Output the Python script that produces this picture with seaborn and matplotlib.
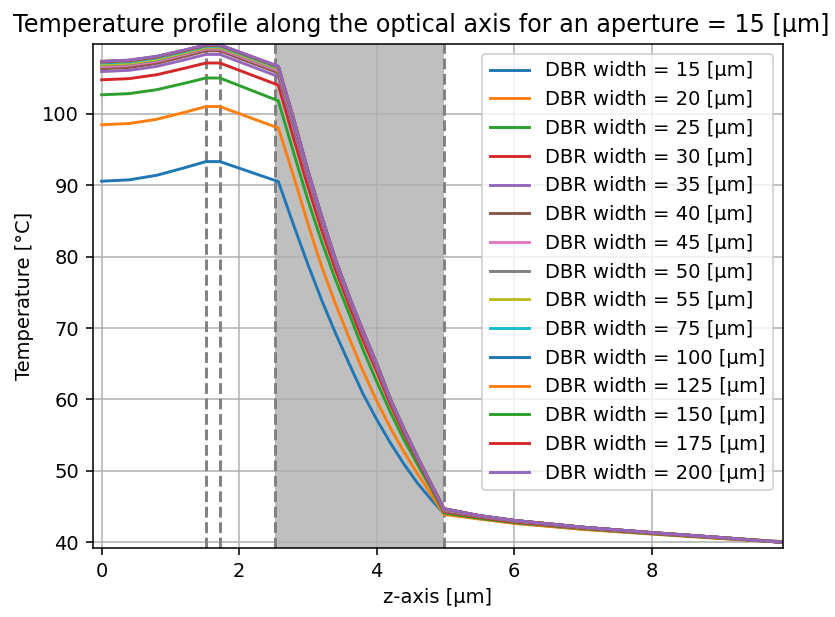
"""Temperature profile along the optical axis for several DBR widths."""

import numpy as np
import pandas as pd

import seaborn as sns
import matplotlib
matplotlib.use('Agg')
import matplotlib.pyplot as plt

###################################################################################################
###################################################################################################

# Positions along the optical axis [um]
z_axis = [0, 0.4, 0.8, 1.2, 1.517, 1.72, 2.57, 2.8, 3.0, 3.2, 3.4, 3.6, 3.8, 4.0,
          4.2, 4.4, 4.6, 4.8, 4.98, 5.5, 6.0, 7.0, 8.0, 9.0, 9.9]

# DBR widths [um]
dbr_widths = [15, 20, 25, 30, 35, 40, 45, 50, 55, 75, 100, 125, 150, 175, 200]

# Temperatures [degC], one list per DBR width
temp_15 = [90.55, 90.74, 91.38, 92.42, 93.3, 93.3, 90.5, 84.2, 78.9, 73.9, 69.3, 65.0, 60.8,
           57.2, 53.9, 50.9, 48.2, 45.9, 44.0, 43.3, 42.7, 41.85, 41.2, 40.6, 40.1]
temp_20 = [98.45, 98.63, 99.22, 100.18, 101.0, 101.0, 98.0, 91.0, 84.6, 78.6, 73.4, 68.6, 64.0,
           59.8, 56.0, 52.6, 49.5, 46.6, 43.9, 43.25, 42.65, 41.8, 41.15, 40.52, 40.0]
temp_25 = [102.65, 102.81, 103.36, 104.25, 105.0, 105.0, 101.8, 94.3, 87.9, 82.1, 76.8, 72.0, 67.0,
           62.5, 58.2, 54.3, 50.8, 47.4, 44.1, 43.35, 42.75, 41.9, 41.2, 40.56, 40.0]
temp_30 = [104.75, 104.91, 105.46, 106.35, 107.1, 107.1, 104.0, 96.3, 89.8, 83.7, 78.2, 73.2, 68.3,
           63.9, 59.3, 55.2, 51.4, 47.7, 44.3, 43.5, 42.85, 41.97, 41.26, 40.6, 40.02]
temp_35 = [105.9, 106.07, 106.62, 107.53, 108.3, 108.3, 105.2, 97.7, 91.0, 84.8, 79.0, 73.9, 69.1,
           64.5, 59.8, 55.6, 51.6, 47.9, 44.4, 43.6, 42.95, 42.03, 41.3, 40.63, 40.03]
temp_40 = [106.3, 106.48, 107.05, 108.0, 108.8, 108.8, 105.7, 98.2, 91.4, 85.1, 79.3, 74.1, 69.3,
           64.7, 59.9, 55.7, 51.7, 47.95, 44.5, 43.65, 43.0, 42.07, 41.33, 40.65, 40.04]
temp_45 = [106.6, 106.77, 107.34, 108.27, 109.05, 109.05, 106.0, 98.5, 91.6, 85.3, 79.4, 74.2, 69.4,
           64.8, 59.95, 55.75, 51.75, 47.97, 44.55, 43.68, 43.02, 42.08, 41.34, 40.66, 40.05]
temp_50 = [106.8, 106.97, 107.52, 108.43, 109.2, 109.2, 106.2, 98.7, 91.75, 85.4, 79.5, 74.3, 69.5,
           64.9, 60.0, 55.8, 51.8, 48.0, 44.6, 43.7, 43.05, 42.1, 41.35, 40.67, 40.05]
temp_55 = [106.9, 107.07, 107.62, 108.53, 109.3, 109.3, 106.3, 98.8, 91.85, 85.5, 79.55, 74.35, 69.55,
           64.95, 60.0, 55.8, 51.8, 48.0, 44.62, 43.7, 43.05, 42.1, 41.35, 40.67, 40.05]
temp_75 = [107.1, 107.26, 107.81, 108.7, 109.45, 109.45, 106.45, 98.9, 91.95, 85.55, 79.6, 74.4, 69.6,
           65.0, 60.0, 55.8, 51.8, 48.0, 44.65, 43.72, 43.06, 42.11, 41.36, 40.67, 40.0]
temp_100 = [107.2, 107.36, 107.9, 108.78, 109.52, 109.52, 106.52, 98.95, 92.0, 85.6, 79.6, 74.4, 69.6,
            65.0, 60.0, 55.8, 51.8, 48.0, 44.67, 43.72, 43.06, 42.11, 41.36, 40.67, 40.0]
temp_125 = [107.25, 107.41, 107.95, 108.83, 109.57, 109.57, 106.57, 99.0, 92.0, 85.6, 79.6, 74.4, 69.6,
            65.0, 60.0, 55.8, 51.8, 48.0, 44.68, 43.72, 43.06, 42.11, 41.36, 40.67, 40.0]
temp_150 = [107.3, 107.46, 107.99, 108.86, 109.6, 109.6, 106.6, 99.0, 92.0, 85.6, 79.6, 74.4, 69.6,
            65.0, 60.0, 55.8, 51.8, 48.0, 44.7, 43.72, 43.06, 42.11, 41.36, 40.67, 40.0]
temp_175 = [107.32, 107.48, 108.01, 108.88, 109.62, 109.62, 106.62, 99.0, 92.0, 85.6, 79.6, 74.4, 69.6,
            65.0, 60.0, 55.8, 51.8, 48.0, 44.7, 43.72, 43.06, 42.11, 41.36, 40.67, 40.0]
temp_200 = [107.35, 107.51, 108.04, 108.91, 109.65, 109.65, 106.65, 99.0, 92.0, 85.6, 79.6, 74.4, 69.6,
            65.0, 60.0, 55.8, 51.8, 48.0, 44.7, 43.72, 43.06, 42.11, 41.36, 40.67, 40.0]

# Layer boundaries along z [um] and the shaded layer
boundaries = [1.517, 1.72, 2.525, 4.98]
shaded = (2.525, 4.98)

###################################################################################################
###################################################################################################

temps = [temp_15, temp_20, temp_25, temp_30, temp_35, temp_40, temp_45, temp_50, temp_55,
         temp_75, temp_100, temp_125, temp_150, temp_175, temp_200]

dpi = 140
fig = plt.figure(figsize=(835 / dpi, 617 / dpi), dpi=dpi)
ax = fig.add_axes([92.7 / 835, 1 - 548 / 617, 690 / 835, 504 / 617])

colors = sns.color_palette('tab10', 10)

ax.axvspan(*shaded, color='gray', alpha=0.5, lw=0)
for bnd in boundaries:
    ax.axvline(bnd, color='gray', ls='--', lw=1.5)

for ind, (width, temp) in enumerate(zip(dbr_widths, temps)):
    df = pd.DataFrame({'z': z_axis, 'T': temp})
    sns.lineplot(data=df, x='z', y='T', color=colors[ind % 10], lw=1.5,
                 label='DBR width = {} [µm]'.format(width), ax=ax)

ax.set_xlim([-0.13, 9.905])
ax.set_ylim([39.2, 109.76])
ax.set_xticks([0, 2, 4, 6, 8])
ax.set_yticks([40, 50, 60, 70, 80, 90, 100])

# Titles & Labels
ax.set_title('Temperature profile along the optical axis for an aperture = 15 [µm]',
             x=0.476, fontsize=12.3)
ax.set_xlabel('z-axis [µm]')
ax.set_ylabel('Temperature [°C]')

ax.grid(True)
ax.legend(loc='upper right')

plt.savefig('out.png', dpi=dpi)
